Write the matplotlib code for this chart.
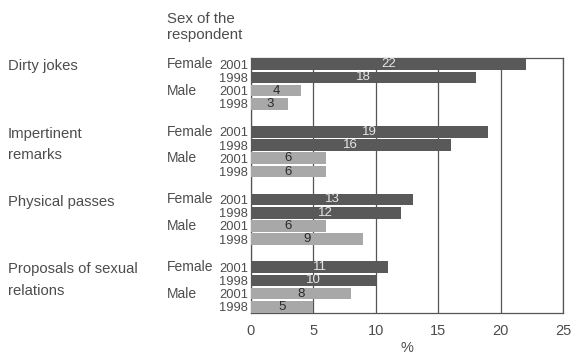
import matplotlib
matplotlib.use("Agg")
import matplotlib.pyplot as plt
from matplotlib.transforms import blended_transform_factory

# data
categories = ["Dirty jokes", "Impertinent\nremarks", "Physical passes", "Proposals of sexual\nrelations"]
female_2001 = [22, 19, 13, 11]
female_1998 = [18, 16, 12, 10]
male_2001 = [4, 6, 6, 8]
male_1998 = [3, 6, 9, 5]
years = ["2001", "1998", "2001", "1998"]
x_ticks = [0, 5, 10, 15, 20, 25]

plt.rcParams['font.family'] = ['Liberation Sans', 'DejaVu Sans']
text_col = "#4d4d4d"
dark = "#595959"
light = "#a8a8a8"

fig = plt.figure(figsize=(5.72, 3.56), dpi=100)
ax = fig.add_axes([0.4388, 0.1208, 0.5455, 0.7162])

group_pitch = 5.1
bar_h = 0.88
series = [female_2001, female_1998, male_2001, male_1998]
colors = [dark, dark, light, light]
label_cols = ["#e6e6e6", "#e6e6e6", "#2a2a2a", "#2a2a2a"]

ypos_all, ylab_all = [], []
for g in range(len(categories)):
    for i, vals in enumerate(series):
        y = g * group_pitch + i
        v = vals[g]
        ax.barh(y, v, height=bar_h, color=colors[i], zorder=3)
        ax.text(v / 2, y, str(v), ha="center", va="center", fontsize=9.5,
                color=label_cols[i], zorder=4)
        ypos_all.append(y)
        ylab_all.append(years[i])

ax.set_xlim(0, 25)
ax.set_ylim(3 * group_pitch + 3 + bar_h / 2 + 0.02, -bar_h / 2 - 0.02)
ax.set_xticks(x_ticks)
ax.set_xticklabels([str(t) for t in x_ticks], fontsize=10.5, color=text_col)
ax.set_yticks(ypos_all)
ax.set_yticklabels(ylab_all, fontsize=9.3, color=text_col)
ax.tick_params(length=0)
ax.tick_params(axis="y", pad=2)
ax.tick_params(axis="x", pad=8)
ax.xaxis.grid(True, color="#555555", linewidth=0.9, zorder=1)
for s in ax.spines.values():
    s.set_color("#555555")
    s.set_linewidth(0.9)
ax.set_xlabel("%", fontsize=10.5, color=text_col, labelpad=2)

tr = blended_transform_factory(fig.transFigure, ax.transData)
for g, cat in enumerate(categories):
    y0 = g * group_pitch
    ax.text(0.014, y0 - 0.35, cat, transform=tr, ha="left", va="top",
            fontsize=10.7, color=text_col, linespacing=1.65)
    ax.text(0.292, y0, "Female", transform=tr, ha="left", va="center",
            fontsize=10, color=text_col)
    ax.text(0.292, y0 + 2, "Male", transform=tr, ha="left", va="center",
            fontsize=10, color=text_col)

fig.text(0.292, 0.967, "Sex of the\nrespondent", ha="left", va="top",
         fontsize=10.8, color=text_col, linespacing=1.2)

fig.savefig("out.png", dpi=100)
